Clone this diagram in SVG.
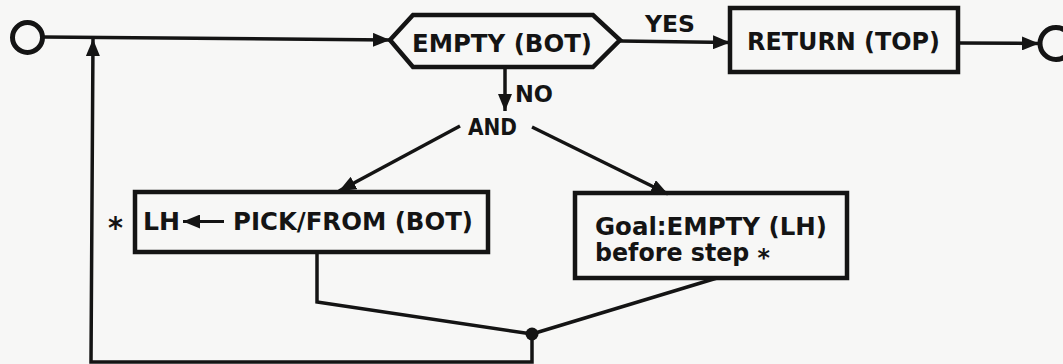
<svg xmlns="http://www.w3.org/2000/svg" width="1063" height="364" viewBox="0 0 1063 364">
  <style>
    .ink { fill: none; stroke: #141414; stroke-width: 3.5; stroke-linejoin: miter; }
    .box { fill: none; stroke: #141414; stroke-width: 4.5; }
    .term { fill: none; stroke: #141414; stroke-width: 5; }
    .lbl { font-family: "DejaVu Sans", "Liberation Sans", sans-serif; font-weight: bold; fill: #141414; }
  </style>
  <defs>
    <marker id="arrow" markerUnits="userSpaceOnUse" markerWidth="18" markerHeight="14" refX="17" refY="7" orient="auto">
      <path d="M0,0 L17,7 L0,14 z" fill="#141414"/>
    </marker>
  </defs>

  <rect width="1063" height="364" fill="#f7f7f6"/>

  <!-- entry and exit terminals -->
  <g id="start">
    <circle class="term" cx="27.5" cy="37.5" r="15"/>
  </g>
  <g id="end">
    <circle class="term" cx="1056" cy="43.5" r="16"/>
  </g>

  <!-- test: is the bottom stack empty? -->
  <g id="empty-bot">
    <polygon class="box" points="390,40 413,15 593,15 620,40 593,67 413,67"/>
    <text class="lbl" x="412" y="52" font-size="25" textLength="180" lengthAdjust="spacingAndGlyphs">EMPTY (BOT)</text>
  </g>

  <g id="return-top">
    <rect class="box" x="730" y="8" width="228" height="64"/>
    <text class="lbl" x="747" y="50" font-size="25" textLength="193" lengthAdjust="spacingAndGlyphs">RETURN (TOP)</text>
  </g>

  <g id="and">
    <text class="lbl" x="468" y="135" font-size="23.5" textLength="49" lengthAdjust="spacingAndGlyphs">AND</text>
  </g>

  <g id="pick-from">
    <text class="lbl" x="108" y="238" font-size="30" textLength="15" lengthAdjust="spacingAndGlyphs">*</text>
    <rect class="box" x="135" y="192" width="353" height="60"/>
    <text class="lbl" x="143" y="230" font-size="25" textLength="37" lengthAdjust="spacingAndGlyphs">LH</text>
    <line x1="224" y1="221.5" x2="183" y2="221.5" stroke="#141414" stroke-width="3" marker-end="url(#arrow)"/>
    <text class="lbl" x="233" y="230" font-size="25" textLength="240" lengthAdjust="spacingAndGlyphs">PICK/FROM (BOT)</text>
  </g>

  <g id="goal">
    <rect class="box" x="575" y="193" width="272" height="85"/>
    <text class="lbl" x="595" y="235" font-size="24" textLength="232" lengthAdjust="spacingAndGlyphs">Goal:EMPTY (LH)</text>
    <text class="lbl" x="595" y="261" font-size="24" textLength="175" lengthAdjust="spacingAndGlyphs">before step <tspan dy="5">*</tspan></text>
  </g>

  <!-- connectors -->
  <g id="connectors">
    <path class="ink" d="M43,37 L390,40" marker-end="url(#arrow)"/>
    <path class="ink" d="M620,41 L730,42.5" marker-end="url(#arrow)"/>
    <text class="lbl" x="645" y="32" font-size="23.5" textLength="50" lengthAdjust="spacingAndGlyphs">YES</text>
    <path class="ink" d="M958,43 L1039,43.5" marker-end="url(#arrow)"/>
    <path class="ink" d="M505,67 L505,111" marker-end="url(#arrow)"/>
    <text class="lbl" x="515" y="102" font-size="23.5" textLength="38" lengthAdjust="spacingAndGlyphs">NO</text>
    <path class="ink" d="M460,126 L339,191" marker-end="url(#arrow)"/>
    <path class="ink" d="M532,127 L668,194" marker-end="url(#arrow)"/>
    <path class="ink" d="M317,252 L317,302 L532,334"/>
    <path class="ink" d="M717,278 L532,334"/>
    <circle cx="532" cy="334" r="6.5" fill="#141414"/>
    <path class="ink" d="M532,334 L532,362 L91,362 L93,39" marker-end="url(#arrow)"/>
  </g>
</svg>
